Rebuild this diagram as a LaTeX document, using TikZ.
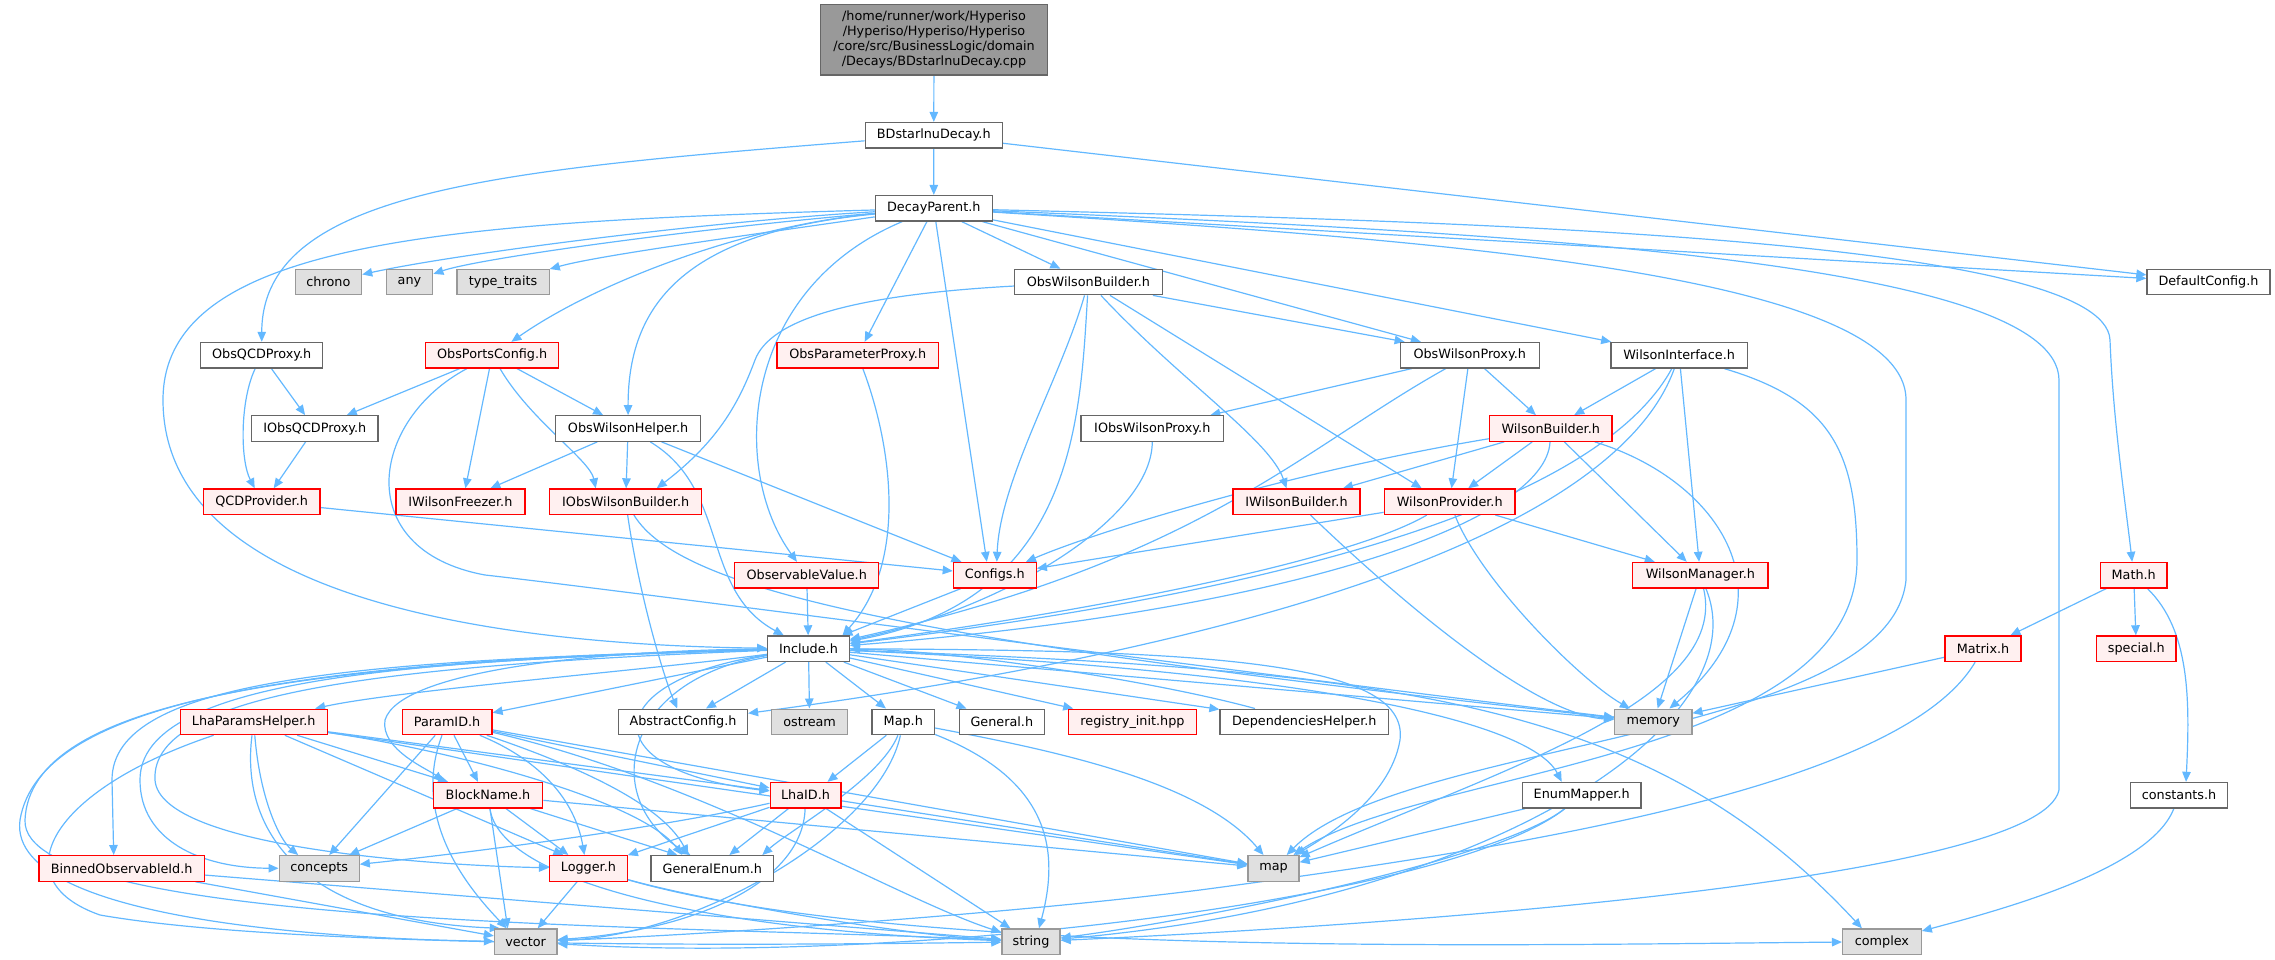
\documentclass[tikz,border=0pt]{standalone}
\usepackage{fontspec}
\setmainfont{DejaVu Sans}
\usetikzlibrary{arrows.meta}
\pgfdeclarelayer{bg}
\pgfsetlayers{bg,main}
\definecolor{edgec}{HTML}{63B8FF}
\definecolor{bordc}{HTML}{666666}
\definecolor{redb}{HTML}{FF0000}
\definecolor{redf}{HTML}{FFF0F0}
\definecolor{sysb}{HTML}{999999}
\definecolor{sysf}{HTML}{E0E0E0}
\definecolor{topf}{HTML}{999999}
\begin{document}
\begin{tikzpicture}[x=1pt,y=-1pt,
  nbase/.style={rectangle, inner sep=0pt, minimum height=25.5, line width=1.3pt, font=\fontsize{12.8}{15}\selectfont, text=black},
  nb/.style={nbase, draw=bordc, fill=white},
  nr/.style={nbase, draw=redb, fill=redf},
  ns/.style={nbase, draw=sysb, fill=sysf},
  ntop/.style={nbase, draw=bordc, fill=topf, align=center},
  edg/.style={draw=edgec, line width=1.2pt, -{Triangle[length=10pt,width=8.5pt]}}]
\useasboundingbox (0,0) rectangle (2275,960);
% row 0-2
\node[ntop, minimum width=226.8, minimum height=70.3] (top) at (934,39.85) {/home/runner/work/Hyperiso\\/Hyperiso/Hyperiso/Hyperiso\\/core/src/BusinessLogic/domain\\/Decays/BDstarlnuDecay.cpp};
\node[nb, minimum width=137] (bds) at (933.75,135.3) {BDstarlnuDecay.h};
\node[nb, minimum width=116.8] (dp) at (933.8,208.3) {DecayParent.h};
% row 3
\node[ns, minimum width=66.4] (chrono) at (328.4,282) {chrono};
\node[ns, minimum width=46.5] (any) at (409.5,282) {any};
\node[ns, minimum width=92.1] (tt) at (503.1,282) {type\_traits};
\node[nb, minimum width=147.8] (owb) at (1088.4,282) {ObsWilsonBuilder.h};
\node[nb, minimum width=123] (dc) at (2208.5,282) {DefaultConfig.h};
% row 4
\node[nb, minimum width=122.1] (oqp) at (261.7,355.2) {ObsQCDProxy.h};
\node[nr, minimum width=133.2] (opc) at (492.2,355.2) {ObsPortsConfig.h};
\node[nr, minimum width=161.4] (opp) at (857.7,355.2) {ObsParameterProxy.h};
\node[nb, minimum width=138.9] (owp) at (1469.7,355.2) {ObsWilsonProxy.h};
\node[nb, minimum width=136.2] (wi) at (1679.1,355.2) {WilsonInterface.h};
% row 5
\node[nb, minimum width=126.5] (ioqp) at (314.8,428.5) {IObsQCDProxy.h};
\node[nb, minimum width=145.4] (owh) at (628.1,428.5) {ObsWilsonHelper.h};
\node[nb, minimum width=142.9] (iowp) at (1152.3,428.5) {IObsWilsonProxy.h};
\node[nr, minimum width=122.6] (wb) at (1550.7,428.5) {WilsonBuilder.h};
% row 6
\node[nr, minimum width=116.3] (qcd) at (261.7,501.7) {QCDProvider.h};
\node[nr, minimum width=128.9] (iwf) at (460.4,501.7) {IWilsonFreezer.h};
\node[nr, minimum width=152.2] (iowb) at (625.7,501.7) {IObsWilsonBuilder.h};
\node[nr, minimum width=127] (iwb) at (1296.5,501.7) {IWilsonBuilder.h};
\node[nr, minimum width=130.8] (wp) at (1449.7,501.7) {WilsonProvider.h};
% row 7
\node[nr, minimum width=143.9] (ov) at (806.7,575.2) {ObservableValue.h};
\node[nr, minimum width=82.9] (cfg) at (994.8,575.2) {Configs.h};
\node[nr, minimum width=135.2] (wm) at (1700.4,575.2) {WilsonManager.h};
\node[nr, minimum width=66.4] (math) at (2133.7,575.2) {Math.h};
% row 8
\node[nb, minimum width=81.4] (inc) at (808.5,648.7) {Include.h};
\node[nr, minimum width=76.1] (matrix) at (1983,648.7) {Matrix.h};
\node[nr, minimum width=79.5] (special) at (2136.3,648.7) {special.h};
% row 9
\node[nr, minimum width=146.9] (lph) at (253.7,721.9) {LhaParamsHelper.h};
\node[nr, minimum width=89.7] (pid) at (447.1,721.9) {ParamID.h};
\node[nb, minimum width=128.9] (ac) at (683,721.9) {AbstractConfig.h};
\node[ns, minimum width=76.1] (ostream) at (809.6,721.9) {ostream};
\node[nb, minimum width=62.5] (maph) at (903.3,721.9) {Map.h};
\node[nb, minimum width=85.3] (gen) at (1001.8,721.9) {General.h};
\node[nr, minimum width=128.4] (reg) at (1132.5,721.9) {registry\_init.hpp};
\node[nb, minimum width=168.6] (dep) at (1304.3,721.9) {DependenciesHelper.h};
\node[ns, minimum width=77.1] (memory) at (1653.3,721.9) {memory};
% row 10
\node[nr, minimum width=109.5] (bn) at (488,795.2) {BlockName.h};
\node[nr, minimum width=70.7] (lhaid) at (805.5,795.2) {LhaID.h};
\node[nb, minimum width=118.7] (em) at (1581.7,795.2) {EnumMapper.h};
\node[nb, minimum width=96.9] (consts) at (2179,795.2) {constants.h};
% row 11
\node[nr, minimum width=165.7] (boid) at (121.7,868.4) {BinnedObservableId.h};
\node[ns, minimum width=80] (concepts) at (319.2,868.4) {concepts};
\node[nr, minimum width=77.6] (logger) at (588.4,868.4) {Logger.h};
\node[nb, minimum width=122.6] (ge) at (712.3,868.4) {GeneralEnum.h};
\node[ns, minimum width=51] (map) at (1273.5,868.4) {map};
% row 12
\node[ns, minimum width=62.5] (vector) at (525.7,941.7) {vector};
\node[ns, minimum width=58.1] (string) at (1031,941.7) {string};
\node[ns, minimum width=78.6] (complex) at (1881.9,941.7) {complex};

\begin{pgfonlayer}{bg}
\draw[edg] (top) -- (bds);
\draw[edg] (bds) -- (dp);
\draw[edg] (bds) .. controls (500,170) and (262,190) .. (oqp);
\draw[edg] (bds) -- (dc);
% DecayParent
\draw[edg] (dp) .. controls (700,222) and (450,255) .. (chrono);
\draw[edg] (dp) .. controls (700,228) and (480,258) .. (any);
\draw[edg] (dp) .. controls (750,235) and (600,255) .. (tt);
\draw[edg] (dp) .. controls (450,222) and (163,240) .. (163,400) .. controls (163,600) and (500,645) .. (inc);
\draw[edg] (dp) .. controls (750,225) and (600,280) .. (opc);
\draw[edg] (dp) .. controls (690,232) and (628,300) .. (owh);
\draw[edg] (dp) -- (opp);
\draw[edg] (dp) -- ([xshift=-8]cfg.north);
\draw[edg] (dp) .. controls (740,290) and (730,470) .. (ov);
\draw[edg] (dp) -- (owb);
\draw[edg] (dp) -- (owp);
\draw[edg] (dp) -- (wi);
\draw[edg] (dp) -- (dc);
\draw[edg] (dp) .. controls (1500,222) and (2105,240) .. (2110,340) .. controls (2113,420) and (2125,500) .. (math);
\draw[edg] (dp) .. controls (1500,232) and (2058,260) .. (2059,380) -- (2059,790) .. controls (2040,880) and (1400,925) .. (string);
\draw[edg] (dp) .. controls (1400,238) and (1906,270) .. (1906,400) -- (1906,580) .. controls (1890,740) and (1400,740) .. (map);
% ObsWilsonBuilder
\draw[edg] (owb) .. controls (850,295) and (770,320) .. (755,360) .. controls (740,400) and (720,440) .. ([xshift=31]iowb.north);
\draw[edg] (owb) .. controls (1060,380) and (1000,480) .. ([xshift=2]cfg.north);
\draw[edg] (owb) .. controls (1080,420) and (1075,600) .. (inc);
\draw[edg] (owb) .. controls (1180,380) and (1270,440) .. ([xshift=-10]iwb.north);
\draw[edg] (owb) -- ([xshift=-28]wp.north);
\draw[edg] ([xshift=-10]owb.south east) -- ([xshift=5]owp.north west);
\draw[edg] (opp) .. controls (890,440) and (910,560) .. ([xshift=34]inc.north);
% ObsWilsonProxy
\draw[edg] (owp) -- (iowp);
\draw[edg] (owp) .. controls (1300,450) and (1200,560) .. (inc);
\draw[edg] (owp) -- (wp);
\draw[edg] (owp) -- (wb);
\draw[edg] (iowp) .. controls (1152,520) and (1000,610) .. (inc);
% WilsonInterface
\draw[edg] (wi) -- (wb);
\draw[edg] (wi) .. controls (1600,500) and (1300,590) .. (inc);
\draw[edg] (wi) .. controls (1620,520) and (1300,640) .. (ac);
\draw[edg] (wi) -- (wm);
\draw[edg] (wi) .. controls (1830,400) and (1857,450) .. (1857,560) .. controls (1857,760) and (1420,770) .. (map);
% WilsonBuilder
\draw[edg] (wb) -- (iwb);
\draw[edg] (wb) -- (wp);
\draw[edg] (wb) .. controls (1300,470) and (1100,530) .. (cfg);
\draw[edg] (wb) .. controls (1546,520) and (1300,610) .. (inc);
\draw[edg] (wb) -- (wm);
\draw[edg] (wb) .. controls (1720,480) and (1800,600) .. (memory);
\draw[edg] (iwb) .. controls (1420,620) and (1540,715) .. (memory);
% WilsonProvider
\draw[edg] (wp) -- (cfg);
\draw[edg] (wp) .. controls (1350,560) and (1100,610) .. (inc);
\draw[edg] (wp) -- (wm);
\draw[edg] (wp) .. controls (1480,580) and (1580,680) .. (memory);
% QCD
\draw[edg] (oqp) -- (ioqp);
\draw[edg] (oqp) .. controls (240,400) and (240,460) .. (qcd);
\draw[edg] (ioqp) -- ([xshift=12]qcd.north);
\draw[edg] (qcd) -- (cfg);
% ObsPortsConfig
\draw[edg] (opc) -- ([xshift=32]ioqp.north);
\draw[edg] (opc) -- ([xshift=5]iwf.north);
\draw[edg] (opc) -- ([xshift=-25]owh.north);
\draw[edg] (opc) .. controls (530,420) and (590,460) .. ([xshift=-30]iowb.north);
\draw[edg] (opc) .. controls (370,420) and (350,550) .. (485,575) .. controls (620,590) and (1300,680) .. (memory);
% ObsWilsonHelper
\draw[edg] (owh) -- ([xshift=30]iwf.north);
\draw[edg] (owh) -- (iowb);
\draw[edg] (owh) -- (cfg);
\draw[edg] (owh) .. controls (730,490) and (700,590) .. (inc);
% IObsWilsonBuilder
\draw[edg] (iowb) .. controls (640,600) and (665,680) .. (ac);
\draw[edg] (iowb) .. controls (680,590) and (900,640) .. (memory);
\draw[edg] (ov) -- (inc);
\draw[edg] (cfg) -- (inc);
% Include
\draw[edg] (inc) -- (ostream);
\draw[edg] (inc) -- (maph);
\draw[edg] (inc) -- (gen);
\draw[edg] (inc) -- (reg);
\draw[edg] (inc) -- (dep);
\draw[edg] (dep) .. controls (1150,680) and (950,650) .. (inc);
\draw[edg] (inc) -- (ac);
\draw[edg] (inc) .. controls (650,670) and (400,690) .. (lph);
\draw[edg] (inc) -- (pid);
\draw[edg] (inc) .. controls (600,650) and (400,670) .. (385,720) .. controls (380,750) and (430,770) .. ([xshift=-45]bn.north);
\draw[edg] (inc) .. controls (600,680) and (590,770) .. (lhaid);
\draw[edg] (inc) .. controls (620,680) and (600,800) .. (ge);
\draw[edg] (inc) .. controls (400,660) and (140,680) .. (140,780) .. controls (140,840) and (200,868) .. (concepts);
\draw[edg] (inc) .. controls (400,665) and (150,690) .. (155,780) .. controls (160,850) and (450,866) .. (logger);
\draw[edg] (inc) .. controls (300,660) and (40,700) .. (20,820) .. controls (5,930) and (400,940) .. (vector);
\draw[edg] (inc) .. controls (350,660) and (112,680) .. (112,780) -- ([xshift=-8]boid.north);
\draw[edg] (inc) .. controls (300,662) and (30,700) .. (25,820) .. controls (20,930) and (700,925) .. (string);
\draw[edg] (inc) .. controls (1200,650) and (1410,660) .. (1400,740) .. controls (1390,800) and (1320,840) .. (map);
\draw[edg] (inc) -- (memory);
\draw[edg] (inc) .. controls (1400,670) and (1650,700) .. ([xshift=-20]complex.north);
\draw[edg] (inc) .. controls (1300,670) and (1530,720) .. ([xshift=-20]em.north);
% Map.h
\draw[edg] (maph) -- ([xshift=22]lhaid.north);
\draw[edg] (maph) .. controls (880,780) and (790,830) .. ([xshift=50]ge.north);
\draw[edg] (maph) .. controls (1050,750) and (1200,780) .. ([xshift=-10]map.north);
\draw[edg] (maph) .. controls (1050,780) and (1060,850) .. ([xshift=8]string.north);
\draw[edg] (maph) .. controls (880,830) and (700,935) .. (vector);
% LhaID
\draw[edg] (lhaid) .. controls (650,830) and (450,855) .. (concepts);
\draw[edg] (lhaid) -- (logger);
\draw[edg] (lhaid) -- (ge);
\draw[edg] (lhaid) -- (map);
\draw[edg] (lhaid) -- (string);
\draw[edg] (lhaid) .. controls (803,880) and (700,930) .. (vector);
% ParamID
\draw[edg] (pid) -- ([xshift=10]concepts.north);
\draw[edg] (pid) .. controls (410,820) and (470,890) .. ([xshift=-19]vector.north);
\draw[edg] (pid) -- ([xshift=-10]bn.north);
\draw[edg] (pid) .. controls (540,760) and (575,800) .. ([xshift=-4]logger.north);
\draw[edg] (pid) .. controls (560,760) and (660,800) .. ([xshift=-24]ge.north);
\draw[edg] (pid) -- (lhaid);
\draw[edg] (pid) -- (map);
\draw[edg] (pid) .. controls (700,780) and (900,900) .. (string);
% LhaParamsHelper
\draw[edg] (lph) .. controls (240,830) and (300,920) .. ([xshift=-26]vector.north);
\draw[edg] (lph) .. controls (260,800) and (280,840) .. ([xshift=-21]concepts.north);
\draw[edg] (lph) .. controls (50,790) and (0,880) .. (100,915) .. controls (300,950) and (800,945) .. (string);
\draw[edg] (lph) -- ([xshift=-40]bn.north);
\draw[edg] (lph) -- ([xshift=-25]logger.north);
\draw[edg] (lph) .. controls (450,750) and (640,800) .. ([xshift=-30]ge.north);
\draw[edg] (lph) -- (lhaid);
\draw[edg] (lph) -- (map);
% BlockName
\draw[edg] (bn) -- ([xshift=30]concepts.north);
\draw[edg] (bn) -- ([xshift=-20]logger.north);
\draw[edg] (bn) -- ([xshift=-35]ge.north);
\draw[edg] (bn) -- ([xshift=-18]vector.north);
\draw[edg] (bn) .. controls (500,880) and (700,930) .. (string);
\draw[edg] (bn) -- (map);
% Logger, BinnedObservableId
\draw[edg] (logger) -- ([xshift=12]vector.north);
\draw[edg] (logger) .. controls (700,900) and (900,935) .. (string);
\draw[edg] (logger) .. controls (900,958) and (1500,945) .. (complex);
\draw[edg] (boid) -- (vector);
\draw[edg] (boid) -- (string);
% EnumMapper
\draw[edg] (em) -- (map);
\draw[edg] (em) .. controls (1500,860) and (1200,920) .. (string);
\draw[edg] (em) .. controls (1450,900) and (900,965) .. (vector);
% WilsonManager
\draw[edg] (wm) -- (memory);
\draw[edg] (wm) .. controls (1730,700) and (1500,770) .. (map);
\draw[edg] (wm) .. controls (1760,720) and (1500,900) .. (string);
% Math
\draw[edg] (math) -- (matrix);
\draw[edg] (math) -- (special);
\draw[edg] (math) .. controls (2190,630) and (2190,700) .. ([xshift=7]consts.north);
\draw[edg] (matrix) -- (memory);
\draw[edg] (matrix) .. controls (1900,790) and (1500,850) .. (1200,890) .. controls (1000,915) and (700,935) .. (vector);
\draw[edg] (consts) .. controls (2150,870) and (2000,910) .. (complex);
\end{pgfonlayer}
\end{tikzpicture}
\end{document}
